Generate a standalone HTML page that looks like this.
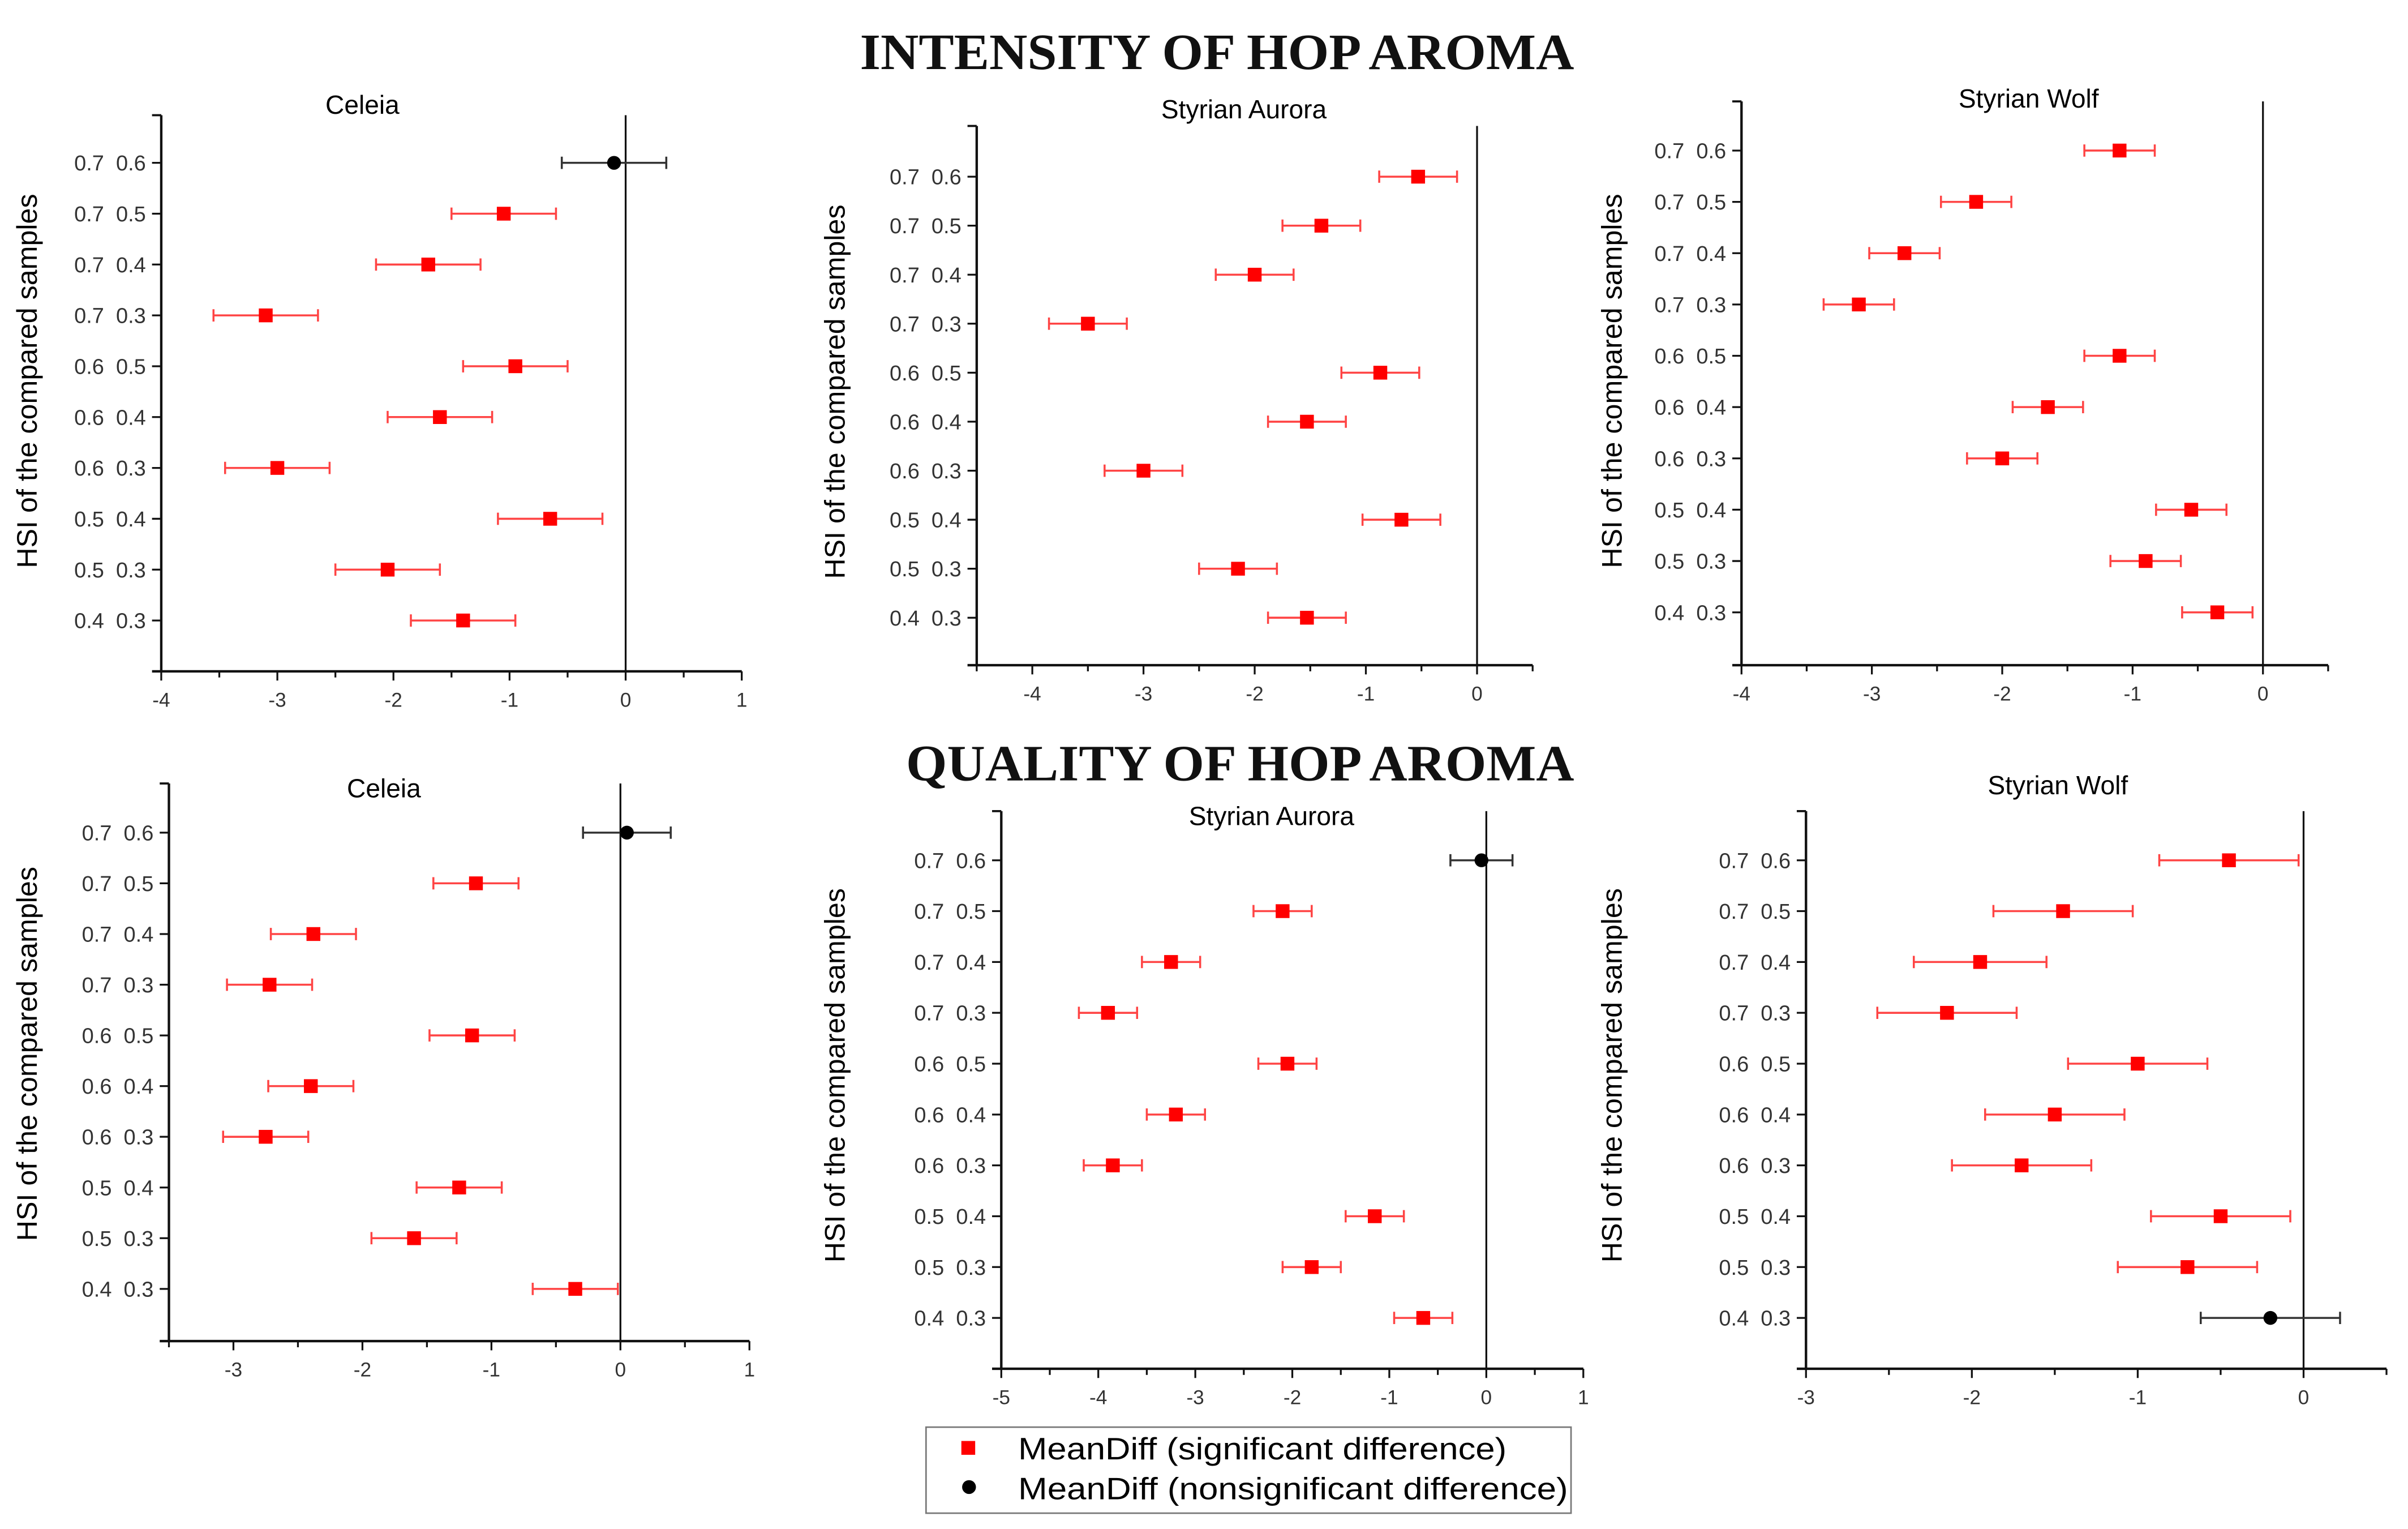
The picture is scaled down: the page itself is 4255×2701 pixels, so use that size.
<!DOCTYPE html>
<html><head><meta charset="utf-8"><style>
html,body{margin:0;padding:0;background:#fff}
svg{display:block}
text{font-family:"Liberation Sans",sans-serif}
.cat{white-space:pre}
</style></head><body>
<svg id="fig" width="4255" height="2701" viewBox="0 0 1568 995.3" preserveAspectRatio="none" xmlns="http://www.w3.org/2000/svg">
<text x="560" y="45" textLength="465" lengthAdjust="spacingAndGlyphs" style="font-family:'Liberation Serif',serif;font-weight:bold;font-size:33px" fill="#111">INTENSITY OF HOP AROMA</text>
<text x="590" y="508" textLength="435" lengthAdjust="spacingAndGlyphs" style="font-family:'Liberation Serif',serif;font-weight:bold;font-size:33px" fill="#111">QUALITY OF HOP AROMA</text>
<g>
<rect x="603" y="929" width="420" height="56" fill="#fff" stroke="#777" stroke-width="1"/>
<rect x="626" y="938" width="9" height="9" fill="#f00"/>
<text x="663" y="950" font-size="20" textLength="318" lengthAdjust="spacingAndGlyphs">MeanDiff (significant difference)</text>
<circle cx="631" cy="968" r="4.5" fill="#000"/>
<text x="663" y="976" font-size="20" textLength="358" lengthAdjust="spacingAndGlyphs">MeanDiff (nonsignificant difference)</text>
</g>
</svg>
<script>
const categories = ["0.7  0.6","0.7  0.5","0.7  0.4","0.7  0.3","0.6  0.5","0.6  0.4","0.6  0.3","0.5  0.4","0.5  0.3","0.4  0.3"];
const celeiaIntMean = [-0.1,-1.05,-1.7,-3.1,-0.95,-1.6,-3.0,-0.65,-2.05,-1.4];
const celeiaIntErr = [0.45,0.45,0.45,0.45,0.45,0.45,0.45,0.45,0.45,0.45];
const celeiaIntSig = [0,1,1,1,1,1,1,1,1,1];
const auroraIntMean = [-0.53,-1.4,-2.0,-3.5,-0.87,-1.53,-3.0,-0.68,-2.15,-1.53];
const auroraIntErr = [0.35,0.35,0.35,0.35,0.35,0.35,0.35,0.35,0.35,0.35];
const auroraIntSig = [1,1,1,1,1,1,1,1,1,1];
const wolfIntMean = [-1.1,-2.2,-2.75,-3.1,-1.1,-1.65,-2.0,-0.55,-0.9,-0.35];
const wolfIntErr = [0.27,0.27,0.27,0.27,0.27,0.27,0.27,0.27,0.27,0.27];
const wolfIntSig = [1,1,1,1,1,1,1,1,1,1];
const celeiaQualMean = [0.05,-1.12,-2.38,-2.72,-1.15,-2.4,-2.75,-1.25,-1.6,-0.35];
const celeiaQualErr = [0.34,0.33,0.33,0.33,0.33,0.33,0.33,0.33,0.33,0.33];
const celeiaQualSig = [0,1,1,1,1,1,1,1,1,1];
const auroraQualMean = [-0.05,-2.1,-3.25,-3.9,-2.05,-3.2,-3.85,-1.15,-1.8,-0.65];
const auroraQualErr = [0.32,0.3,0.3,0.3,0.3,0.3,0.3,0.3,0.3,0.3];
const auroraQualSig = [0,1,1,1,1,1,1,1,1,1];
const wolfQualMean = [-0.45,-1.45,-1.95,-2.15,-1.0,-1.5,-1.7,-0.5,-0.7,-0.2];
const wolfQualErr = [0.42,0.42,0.4,0.42,0.42,0.42,0.42,0.42,0.42,0.42];
const wolfQualSig = [1,1,1,1,1,1,1,1,1,0];
const celeiaIntTicks = [-4,-3,-2,-1,0,1];
const auroraIntTicks = [-4,-3,-2,-1,0];
const wolfIntTicks = [-4,-3,-2,-1,0];
const celeiaQualTicks = [-3,-2,-1,0,1];
const auroraQualTicks = [-5,-4,-3,-2,-1,0,1];
const wolfQualTicks = [-3,-2,-1,0];

const NS="http://www.w3.org/2000/svg";
const svg=document.getElementById('fig');
function mk(tag,attrs,parent){const e=document.createElementNS(NS,tag);for(const k in attrs)e.setAttribute(k,attrs[k]);(parent||svg).appendChild(e);return e;}

function panel(o){
  const g=mk('g',{});
  
  
  const X=v=>o.x0+(v-o.xmin)/(o.xmax-o.xmin)*(o.x1-o.x0);
  const Y=i=>o.yFirst+i*o.ystep;
  const t=mk('text',{x:o.tx,y:o.ty,'text-anchor':'middle','font-size':17,fill:'#000'},g);t.textContent=o.title;
  
  
  const yt=mk('text',{x:0,y:0,'text-anchor':'middle','font-size':18.5,fill:'#000',transform:`translate(${o.ytx},${o.yty}) rotate(-90)`},g);yt.textContent='HSI of the compared samples';
  
  
  const ya=mk('line',{x1:o.x0,y1:o.top,x2:o.x0,y2:o.bottom,stroke:'#111','stroke-width':1.6},g);
  
  
  mk('line',{x1:o.x0-6,y1:o.top,x2:o.x0,y2:o.top,stroke:'#111','stroke-width':1.4},g);
  const xa=mk('line',{x1:o.x0-6,y1:o.bottom,x2:o.x1,y2:o.bottom,stroke:'#111','stroke-width':1.6},g);
  
  
  mk('line',{x1:X(0),y1:o.top,x2:X(0),y2:o.bottom,stroke:'#111','stroke-width':1.2},g);
  for(let v=o.xmin;v<=o.xmax+1e-9;v+=0.5){
    const major=Math.abs(v-Math.round(v))<1e-9;
    mk('line',{x1:X(v),y1:o.bottom,x2:X(v),y2:o.bottom+(major?6:4),stroke:'#111','stroke-width':1.2},g);
  }
  o.ticks.forEach(v=>{
    const tl=mk('text',{x:X(v),y:o.bottom+23,'text-anchor':'middle','font-size':13,fill:'#333'},g);tl.textContent=String(v);
    
    
  });
  categories.forEach((c,i)=>{
    mk('line',{x1:o.x0-6,y1:Y(i),x2:o.x0,y2:Y(i),stroke:'#111','stroke-width':1.2},g);
    const cl=mk('text',{x:o.x0-10,y:Y(i)+5,'text-anchor':'end','font-size':14,fill:'#333','class':'cat'},g);cl.textContent=c;
    
    
  });
  o.mean.forEach((m,i)=>{
    const sig=o.sig[i]===1;const col=sig?'#f44':'#333';
    const y=Y(i),a=X(m-o.err[i]),b=X(m+o.err[i]);
    const eb=mk('path',{d:`M${a},${y}H${b}M${a},${y-4}V${y+4}M${b},${y-4}V${y+4}`,stroke:col,'stroke-width':1.3,fill:'none'},g);
    
    
    let p;
    if(sig){p=mk('rect',{x:X(m)-4.5,y:y-4.5,width:9,height:9,fill:'#f00'},g);}
    else{p=mk('circle',{cx:X(m),cy:y,r:4.5,fill:'#000'},g);}
    
    
  });
}
panel({name:'panel-intensity-celeia',title:'Celeia',tx:236,ty:74,ytx:24,yty:248,x0:105,x1:483,xmin:-4,xmax:1,top:75,bottom:437,yFirst:106,ystep:33.1,ticks:celeiaIntTicks,mean:celeiaIntMean,err:celeiaIntErr,sig:celeiaIntSig});
panel({name:'panel-intensity-aurora',title:'Styrian Aurora',tx:810,ty:77,ytx:550,yty:255,x0:636,x1:998,xmin:-4.5,xmax:0.5,top:82,bottom:433,yFirst:115,ystep:31.9,ticks:auroraIntTicks,mean:auroraIntMean,err:auroraIntErr,sig:auroraIntSig});
panel({name:'panel-intensity-wolf',title:'Styrian Wolf',tx:1321,ty:70,ytx:1056,yty:248,x0:1134,x1:1516,xmin:-4,xmax:0.5,top:66,bottom:433,yFirst:98,ystep:33.4,ticks:wolfIntTicks,mean:wolfIntMean,err:wolfIntErr,sig:wolfIntSig});
panel({name:'panel-quality-celeia',title:'Celeia',tx:250,ty:519,ytx:24,yty:686,x0:110,x1:488,xmin:-3.5,xmax:1,top:510,bottom:873,yFirst:542,ystep:33.0,ticks:celeiaQualTicks,mean:celeiaQualMean,err:celeiaQualErr,sig:celeiaQualSig});
panel({name:'panel-quality-aurora',title:'Styrian Aurora',tx:828,ty:537,ytx:550,yty:700,x0:652,x1:1031,xmin:-5,xmax:1,top:528,bottom:891,yFirst:560,ystep:33.1,ticks:auroraQualTicks,mean:auroraQualMean,err:auroraQualErr,sig:auroraQualSig});
panel({name:'panel-quality-wolf',title:'Styrian Wolf',tx:1340,ty:517,ytx:1056,yty:700,x0:1176,x1:1554,xmin:-3,xmax:0.5,top:528,bottom:891,yFirst:560,ystep:33.1,ticks:wolfQualTicks,mean:wolfQualMean,err:wolfQualErr,sig:wolfQualSig});
</script>
</body></html>
